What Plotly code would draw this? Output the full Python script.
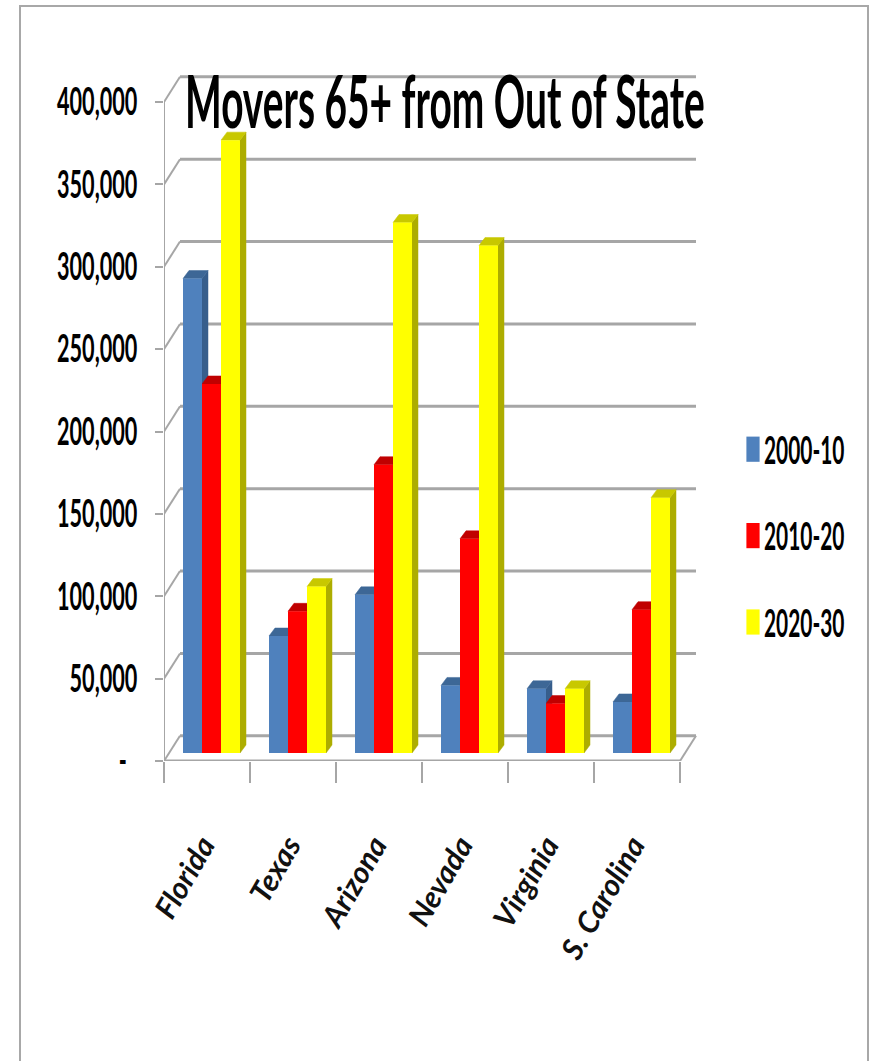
import plotly.graph_objects as go

W, H = 871, 1061
states = ["Florida", "Texas", "Arizona", "Nevada", "Virginia", "S. Carolina"]
periods = ["2000-10", "2010-20", "2020-30"]
v2000 = [288000, 71000, 96000, 41000, 39000, 31000]
v2010 = [224000, 86000, 175000, 130000, 30000, 87000]
v2020 = [372000, 101000, 322000, 308000, 39000, 155000]
values = [v2000, v2010, v2020]
y_ticks = [0, 50000, 100000, 150000, 200000, 250000, 300000, 350000, 400000]
y_text = ["-\u00a0\u00a0"] + [f"{t:,}" for t in y_ticks[1:]]
front = ["#4f81bd", "#ff0000", "#ffff00"]
top_c = ["#3d6796", "#c00000", "#c8c800"]
side_c = ["#375e8c", "#a80000", "#adad00"]

# geometry in axis units
BAR_W = 19 / 86
OFFS = [(-24 + 19 * k) / 86 for k in range(3)]
BASE = 4855          # bars stand on the floor, above the front edge
DX, DY = 6 / 86, 4855
WX, WY = 16 / 86, 15300
GRID = "#a6a6a6"
X_MAX = 5.5 + WX + 0.02
Y_MAX = 400000 + WY + 3000
PX_PER_UNIT_X, PX_PER_UNIT_Y = 86, 659 / 400000
X_RIGHT = 164 + (X_MAX + 0.5) * PX_PER_UNIT_X
Y_TOP = 761 - Y_MAX * PX_PER_UNIT_Y

fig = go.Figure()


def line(xs, ys, width=3, color=GRID):
    fig.add_trace(go.Scatter(x=xs, y=ys, mode="lines", cliponaxis=False, showlegend=False,
                             hoverinfo="skip", line=dict(color=color, width=width)))


for t in y_ticks:
    line([-0.5 + WX, 5.5 + WX], [t + WY, t + WY])
    line([-0.5, -0.5 + WX], [t, t + WY], width=2)
line([5.5, 5.5 + WX], [0, WY], width=2)
line([-0.5, 5.5], [0, 0], width=3)
line([-0.5, -0.5], [0, 400000], width=2)


def poly(xs, ys, color):
    fig.add_trace(go.Scatter(x=xs, y=ys, mode="lines", fill="toself", fillcolor=color, cliponaxis=False,
                             showlegend=False, hoverinfo="skip", line=dict(color=color, width=0.5)))


for k in range(3):
    for i, v in enumerate(values[k]):
        l = i + OFFS[k]
        r = l + BAR_W
        tp = BASE + v
        poly([r, r + DX, r + DX, r, r], [BASE, BASE + DY, tp + DY, tp, BASE], side_c[k])
        poly([l, r, r + DX, l + DX, l], [tp, tp, tp + DY, tp + DY, tp], top_c[k])

for k in range(3):
    fig.add_trace(go.Bar(x=states, y=values[k], base=BASE, name=periods[k], xaxis="x2", yaxis="y",
                         width=BAR_W, offset=OFFS[k], marker=dict(color=front[k], line=dict(width=0)),
                         legendgroup=periods[k]))

fig.update_layout(
    width=W, height=H, margin=dict(l=0, r=0, t=0, b=0, autoexpand=False),
    paper_bgcolor="white", plot_bgcolor="rgba(0,0,0,0)", barmode="overlay",
    font=dict(family="Lato", color="black"),
    title=dict(text="<b>Movers 65+ from Out of State</b>", x=185 / W, xref="paper", xanchor="left",
               y=1 - 103 / H, yref="paper", yanchor="middle", font=dict(family="Lato", size=72, color="black")),
    xaxis=dict(domain=[164 / W, X_RIGHT / W], range=[-0.5, X_MAX], type="linear", anchor="y",
               tickmode="array", tickvals=[-0.5, 0.5, 1.5, 2.5, 3.5, 4.5, 5.5], showticklabels=False,
               ticks="outside", ticklen=21, tickwidth=2, tickcolor=GRID, showgrid=False, zeroline=False,
               showline=False),
    xaxis2=dict(domain=[164 / W, X_RIGHT / W], overlaying="x", side="bottom", anchor="y", type="category",
                categoryorder="array", categoryarray=states, range=[-0.5, X_MAX], tickangle=-60, ticks="",
                ticklabelstandoff=60, showgrid=False, zeroline=False, showline=False,
                tickfont=dict(family="Lato", size=30, weight="bold", style="italic", color="#111111")),
    yaxis=dict(domain=[1 - 761 / H, 1 - Y_TOP / H], range=[0, Y_MAX], tickmode="array", tickvals=y_ticks,
               ticktext=y_text, ticks="outside", ticklen=8, tickwidth=2, tickcolor=GRID, showgrid=False,
               zeroline=False, showline=False, ticklabelstandoff=10,
               tickfont=dict(family="Lato", size=38, weight="bold", color="black")),
    legend=dict(x=733 / W, xanchor="left", y=1 - 536 / H, yanchor="middle", tracegroupgap=34, traceorder="grouped",
                font=dict(family="Lato", size=38, weight="bold", color="black"), bgcolor="rgba(0,0,0,0)"),
    shapes=[dict(type="rect", xref="paper", yref="paper", x0=20 / W, x1=868 / W, y0=-0.02, y1=1 - 6 / H,
                 line=dict(color="#a8a8a8", width=2), layer="below")],
)

post = """
document.body.style.margin='0';
function squeeze(sel,s,dx){document.querySelectorAll(sel).forEach(function(t){
 var x=parseFloat(t.getAttribute('x'))||0; var cur=t.getAttribute('transform')||'';
 t.setAttribute('transform',cur+' translate('+(x+dx)+' 0) scale('+s+' 1) translate('+(-x)+' 0)');});}
squeeze('.gtitle',0.54,0);
squeeze('.ytick text',0.57,0);
squeeze('.legendtext',0.55,-9);
document.querySelectorAll('.legendpoints path').forEach(function(p){
 p.setAttribute('transform',(p.getAttribute('transform')||'')+' scale(1.1 2.1)');});
document.querySelectorAll('.x2tick text').forEach(function(t){
 t.setAttribute('transform','translate(-4 0) '+(t.getAttribute('transform')||''));});
"""
fig.write_html("out.html", post_script=post, config=dict(displayModeBar=False))
